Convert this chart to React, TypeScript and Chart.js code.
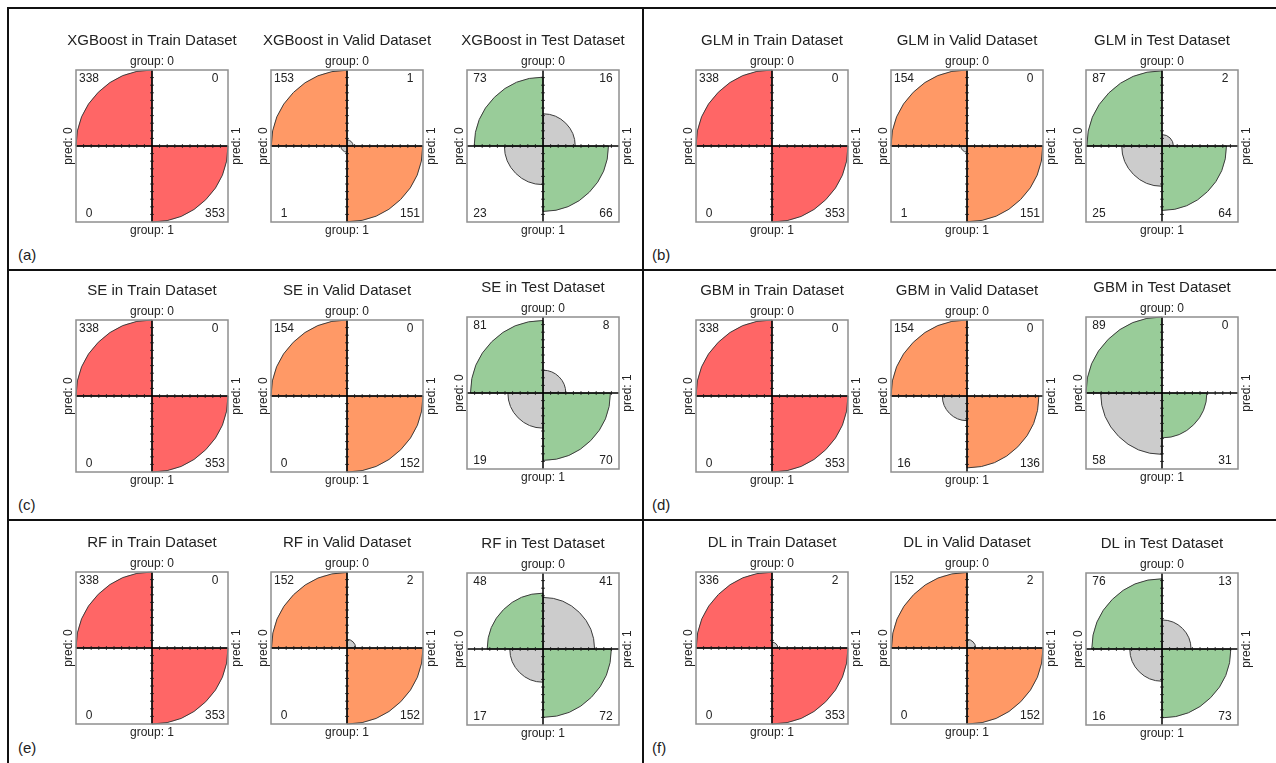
import React, { useEffect, useRef } from "react";
import { Chart, registerables, RadialLinearScale } from "chart.js";

Chart.register(...registerables);

// ---------- data ----------
const MODEL_NAMES = ["XGBoost", "GLM", "SE", "GBM", "RF", "DL"];
const DATASET_NAMES = ["Train", "Valid", "Test"];
const PANEL_TAGS = ["(a)", "(b)", "(c)", "(d)", "(e)", "(f)"];
const GROUP_LABELS = ["group: 0", "group: 1"];
const PRED_LABELS = ["pred: 0", "pred: 1"];

// counts: [pred0&group0 (top-left), pred1&group0 (top-right), pred0&group1 (bottom-left), pred1&group1 (bottom-right)]
const xgboostTrain = [338, 0, 0, 353];
const xgboostValid = [153, 1, 1, 151];
const xgboostTest = [73, 16, 23, 66];
const glmTrain = [338, 0, 0, 353];
const glmValid = [154, 0, 1, 151];
const glmTest = [87, 2, 25, 64];
const seTrain = [338, 0, 0, 353];
const seValid = [154, 0, 0, 152];
const seTest = [81, 8, 19, 70];
const gbmTrain = [338, 0, 0, 353];
const gbmValid = [154, 0, 16, 136];
const gbmTest = [89, 0, 58, 31];
const rfTrain = [338, 0, 0, 353];
const rfValid = [152, 2, 0, 152];
const rfTest = [48, 41, 17, 72];
const dlTrain = [336, 2, 0, 353];
const dlValid = [152, 2, 0, 152];
const dlTest = [76, 13, 16, 73];

const MODEL_COUNTS = [
  [xgboostTrain, xgboostValid, xgboostTest],
  [glmTrain, glmValid, glmTest],
  [seTrain, seValid, seTest],
  [gbmTrain, gbmValid, gbmTest],
  [rfTrain, rfValid, rfTest],
  [dlTrain, dlValid, dlTest],
];

// ---------- styles ----------
const DATASET_COLORS = ["#FF6666", "#FF9966", "#99CC99"];
const OFF_DIAG_COLOR = "#CCCCCC";
const FONT = "'Liberation Sans', Arial, Helvetica, sans-serif";
const TEXT_COLOR = "#222222";

// ---------- layout ----------
const CW = 220;
const CH = 240;
const SIDE_PAD = 14;
const CENTER_X = [
  [152, 347, 543],
  [772, 967, 1162],
];
const ROW_Y = [146, 396, 648];
const TEST_DY = [0, -3, 1];
const TAG_LEFT = [18, 652];
const TAG_Y = [255, 505, 748];

// square-root radial scale: quadrant area proportional to standardized frequency
class SqrtRadialScale extends RadialLinearScale {
  static id = "sqrtRadial";
  static defaults = RadialLinearScale.defaults;
  getDistanceFromCenterForValue(value: number) {
    if (value === null || value === undefined || isNaN(value)) return NaN;
    const span = this.max - this.min;
    if (span <= 0) return 0;
    const f = Math.max(0, (value - this.min) / span);
    return this.drawingArea * Math.sqrt(f);
  }
}
Chart.register(SqrtRadialScale as any);

const fourfoldPlugin = {
  id: "fourfoldDecor",
  afterDatasetsDraw(chart: any, _args: any, opts: any) {
    const r = chart.scales.r;
    const cx = r.xCenter;
    const cy = r.yCenter;
    const R = r.drawingArea;
    const ctx = chart.ctx as CanvasRenderingContext2D;
    ctx.save();
    // axes
    ctx.strokeStyle = "#000";
    ctx.lineWidth = 1.5;
    ctx.beginPath();
    ctx.moveTo(cx - R, cy);
    ctx.lineTo(cx + R, cy);
    ctx.moveTo(cx, cy - R);
    ctx.lineTo(cx, cy + R);
    ctx.stroke();
    // ticks
    ctx.lineWidth = 1;
    ctx.strokeStyle = "#1a1a1a";
    ctx.beginPath();
    const t = 1.8;
    for (let i = 1; i < 10; i++) {
      const d = (R * i) / 10;
      for (const s of [-1, 1]) {
        ctx.moveTo(cx + s * d, cy - t);
        ctx.lineTo(cx + s * d, cy + t);
        ctx.moveTo(cx - t, cy + s * d);
        ctx.lineTo(cx + t, cy + s * d);
      }
    }
    ctx.stroke();
    // box
    ctx.strokeStyle = "#8f8f8f";
    ctx.lineWidth = 1.5;
    ctx.strokeRect(cx - R, cy - R, 2 * R, 2 * R);
    // labels
    ctx.fillStyle = TEXT_COLOR;
    ctx.font = `12px ${FONT}`;
    ctx.textAlign = "center";
    ctx.textBaseline = "middle";
    ctx.fillText(GROUP_LABELS[0], cx, cy - R - 8);
    ctx.fillText(GROUP_LABELS[1], cx, cy + R + 9);
    ctx.save();
    ctx.translate(cx - R - 7, cy);
    ctx.rotate(-Math.PI / 2);
    ctx.fillText(PRED_LABELS[0], 0, 0);
    ctx.restore();
    ctx.save();
    ctx.translate(cx + R + 9, cy);
    ctx.rotate(-Math.PI / 2);
    ctx.fillText(PRED_LABELS[1], 0, 0);
    ctx.restore();
    // counts
    const c: number[] = opts.counts;
    ctx.fillText(String(c[0]), cx - R + 13, cy - R + 9);
    ctx.fillText(String(c[1]), cx + R - 13, cy - R + 9);
    ctx.fillText(String(c[2]), cx - R + 13, cy + R - 8);
    ctx.fillText(String(c[3]), cx + R - 13, cy + R - 8);
    ctx.restore();
  },
};

function Fourfold(props: { title: string; counts: number[]; color: string; cx: number; cy: number }) {
  const { title, counts, color, cx, cy } = props;
  const ref = useRef<HTMLCanvasElement>(null);
  useEffect(() => {
    const [tl, tr, bl, br] = counts;
    const top = tl + tr;
    const bottom = bl + br;
    // polar area runs clockwise from 12 o'clock: TR, BR, BL, TL
    const values = [tr / top, br / bottom, bl / bottom, tl / top];
    const colors = [OFF_DIAG_COLOR, color, OFF_DIAG_COLOR, color];
    const chart = new Chart(ref.current as HTMLCanvasElement, {
      type: "polarArea",
      data: {
        labels: ["pred: 1 / group: 0", "pred: 1 / group: 1", "pred: 0 / group: 1", "pred: 0 / group: 0"],
        datasets: [
          {
            data: values,
            backgroundColor: colors,
            borderColor: "#3c3c3c",
            borderWidth: (c: any) => (c.raw > 0 ? 1 : 0),
          } as any,
        ],
      },
      options: {
        animation: false,
        responsive: false,
        devicePixelRatio: 1,
        layout: { padding: { top: 0, bottom: 38, left: SIDE_PAD, right: SIDE_PAD } },
        scales: {
          r: {
            type: "sqrtRadial",
            min: 0,
            max: 1,
            ticks: { display: false },
            grid: { display: false },
            angleLines: { display: false },
            pointLabels: { display: false },
          } as any,
        },
        plugins: {
          legend: { display: false },
          tooltip: { enabled: false },
          title: {
            display: true,
            text: title,
            color: TEXT_COLOR,
            font: { size: 15, family: FONT, weight: "normal" },
            padding: { top: 12, bottom: 20 },
          },
          fourfoldDecor: { counts },
        } as any,
      },
      plugins: [fourfoldPlugin],
    } as any);
    return () => chart.destroy();
  }, [title, counts, color]);
  return (
    <canvas
      ref={ref}
      width={CW}
      height={CH}
      style={{ position: "absolute", left: cx - CW / 2, top: cy - 126, width: CW, height: CH }}
    />
  );
}

export default function App() {
  const plots: React.ReactNode[] = [];
  MODEL_NAMES.forEach((model, p) => {
    const row = Math.floor(p / 2);
    const col = p % 2;
    DATASET_NAMES.forEach((ds, k) => {
      plots.push(
        <Fourfold
          key={`${model}-${ds}`}
          title={`${model} in ${ds} Dataset`}
          counts={MODEL_COUNTS[p][k]}
          color={DATASET_COLORS[k]}
          cx={CENTER_X[col][k]}
          cy={ROW_Y[row] + (k === 2 ? TEST_DY[row] : 0)}
        />
      );
    });
  });
  const line = (style: React.CSSProperties) => (
    <div style={{ position: "absolute", background: "#111", ...style }} />
  );
  return (
    <div
      style={{
        position: "absolute",
        left: 0,
        top: 0,
        width: 1276,
        height: 763,
        overflow: "hidden",
        background: "#fff",
        fontFamily: FONT,
      }}
    >
      {line({ left: 7, top: 7, width: 1300, height: 2 })}
      {line({ left: 7, top: 7, width: 2, height: 800 })}
      {line({ left: 642, top: 7, width: 2, height: 800 })}
      {line({ left: 7, top: 269, width: 1300, height: 2 })}
      {line({ left: 7, top: 519, width: 1300, height: 2 })}
      {PANEL_TAGS.map((tag, p) => (
        <div
          key={tag}
          style={{
            position: "absolute",
            left: TAG_LEFT[p % 2],
            top: TAG_Y[Math.floor(p / 2)] - 9,
            fontSize: 15,
            lineHeight: "18px",
            color: TEXT_COLOR,
          }}
        >
          {tag}
        </div>
      ))}
      {plots}
    </div>
  );
}
